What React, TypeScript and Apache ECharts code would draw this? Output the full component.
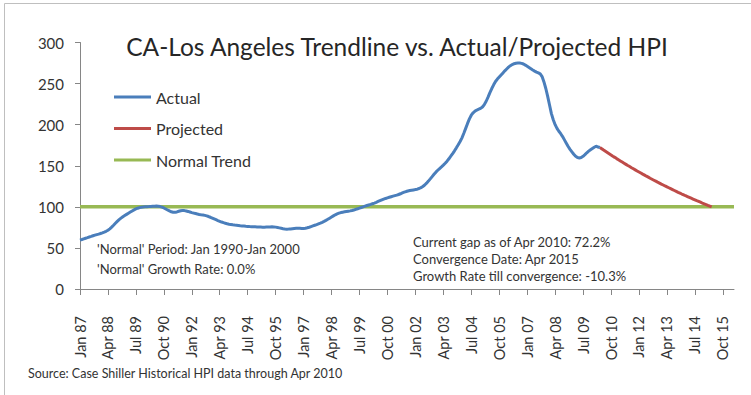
import React, { useEffect, useRef } from "react";
import * as echarts from "echarts";

// ---------- data ----------
const MONTHS = ["Jan", "Feb", "Mar", "Apr", "May", "Jun", "Jul", "Aug", "Sep", "Oct", "Nov", "Dec"];
const FIRST_YEAR = 1987;
const MONTH_COUNT = 352; // Jan 87 .. Apr 16

const hpi1987 = [59.5, 60.2, 61.0, 61.8, 62.5, 63.3, 64.0, 64.8, 65.5, 66.2, 66.8, 67.5];
const hpi1988 = [68.3, 69.2, 70.2, 71.5, 73.2, 75.3, 77.6, 80.0, 82.3, 84.4, 86.2, 87.9];
const hpi1989 = [89.4, 90.8, 92.2, 93.6, 95.0, 96.3, 97.4, 98.3, 99.0, 99.5, 99.8, 100.0];
const hpi1990 = [100.2, 100.3, 100.5, 100.7, 100.8, 100.9, 100.7, 100.3, 99.6, 98.6, 97.4, 96.2];
const hpi1991 = [95.0, 94.0, 93.4, 93.3, 93.8, 94.6, 95.3, 95.6, 95.4, 95.0, 94.4, 93.7];
const hpi1992 = [93.0, 92.4, 91.8, 91.2, 90.7, 90.3, 90.0, 89.6, 89.0, 88.2, 87.3, 86.3];
const hpi1993 = [85.3, 84.3, 83.3, 82.4, 81.5, 80.7, 80.0, 79.4, 78.9, 78.5, 78.1, 77.8];
const hpi1994 = [77.6, 77.3, 77.0, 76.8, 76.6, 76.4, 76.2, 76.0, 75.9, 75.8, 75.7, 75.6];
const hpi1995 = [75.5, 75.4, 75.3, 75.3, 75.4, 75.5, 75.6, 75.7, 75.6, 75.3, 74.9, 74.4];
const hpi1996 = [73.9, 73.4, 73.0, 72.8, 72.9, 73.1, 73.4, 73.7, 73.9, 74.0, 73.9, 73.7];
const hpi1997 = [73.6, 73.9, 74.5, 75.2, 76.0, 76.8, 77.6, 78.4, 79.3, 80.2, 81.2, 82.3];
const hpi1998 = [83.5, 84.8, 86.2, 87.6, 89.0, 90.3, 91.4, 92.3, 93.0, 93.5, 93.9, 94.3];
const hpi1999 = [94.7, 95.1, 95.6, 96.2, 96.9, 97.6, 98.4, 99.2, 100.0, 100.8, 101.6, 102.3];
const hpi2000 = [103.0, 103.8, 104.6, 105.5, 106.5, 107.5, 108.5, 109.4, 110.2, 110.9, 111.6, 112.3];
const hpi2001 = [113.0, 113.6, 114.2, 115.0, 115.9, 116.9, 117.8, 118.6, 119.3, 119.8, 120.2, 120.6];
const hpi2002 = [121.0, 121.5, 122.3, 123.4, 124.8, 126.6, 128.8, 131.3, 134.0, 136.8, 139.6, 142.2];
const hpi2003 = [144.5, 146.6, 148.6, 150.7, 153.0, 155.6, 158.5, 161.6, 164.8, 168.2, 171.8, 175.6];
const hpi2004 = [179.5, 184.0, 189.5, 195.5, 201.5, 207.0, 211.5, 214.5, 216.5, 217.8, 218.8, 219.8];
const hpi2005 = [221.5, 224.5, 228.5, 233.5, 239.0, 244.0, 248.5, 252.5, 255.5, 258.0, 260.5, 263.0];
const hpi2006 = [265.5, 267.8, 270.0, 271.8, 273.2, 274.2, 274.8, 275.0, 275.0, 274.6, 273.8, 272.5];
const hpi2007 = [271.0, 269.5, 268.0, 266.5, 265.2, 264.0, 263.0, 261.8, 258.5, 252.0, 244.0, 234.5];
const hpi2008 = [224.0, 213.5, 206.0, 200.0, 195.5, 192.0, 189.0, 185.5, 181.5, 177.5, 173.5, 170.0];
const hpi2009 = [167.0, 164.0, 161.5, 160.0, 159.5, 160.0, 161.5, 163.5, 165.8, 167.8, 169.5, 171.0];
const hpi2010 = [172.5, 173.8, 172.8, 172.2];

const ACTUAL = [
  ...hpi1987, ...hpi1988, ...hpi1989, ...hpi1990, ...hpi1991, ...hpi1992,
  ...hpi1993, ...hpi1994, ...hpi1995, ...hpi1996, ...hpi1997, ...hpi1998,
  ...hpi1999, ...hpi2000, ...hpi2001, ...hpi2002, ...hpi2003, ...hpi2004,
  ...hpi2005, ...hpi2006, ...hpi2007, ...hpi2008, ...hpi2009, ...hpi2010,
];

// Projected: Apr 2010 .. Apr 2015
const PROJECTED_START = 279;
const PROJECTED = [
  172.2, 170.7, 169.1, 167.6, 166.1, 164.6, 163.1, 161.6, 160.2, 158.7, 157.3, 155.9,
  154.5, 153.1, 151.7, 150.3, 149.0, 147.6, 146.3, 145.0, 143.7, 142.4, 141.1, 139.8,
  138.6, 137.3, 136.1, 134.8, 133.6, 132.4, 131.2, 130.0, 128.9, 127.7, 126.6, 125.4,
  124.3, 123.2, 122.1, 121.0, 119.9, 118.8, 117.7, 116.7, 115.6, 114.6, 113.5, 112.5,
  111.5, 110.5, 109.5, 108.5, 107.5, 106.6, 105.6, 104.6, 103.7, 102.8, 101.8, 100.9,
  100.0,
];

const NORMAL_LEVEL = 100;

const Y_MIN = 0;
const Y_MAX = 300;
const Y_STEP = 50;

const TITLE = "CA-Los Angeles Trendline vs. Actual/Projected HPI";
const NOTES_LEFT = ["'Normal' Period: Jan 1990-Jan 2000", "'Normal' Growth Rate: 0.0%"];
const NOTES_RIGHT = [
  "Current gap as of Apr 2010: 72.2%",
  "Convergence Date: Apr 2015",
  "Growth Rate till convergence: -10.3%",
];
const SOURCE = "Source: Case Shiller Historical HPI data through Apr 2010";

const CATEGORIES: string[] = [];
for (let i = 0; i < MONTH_COUNT; i++) {
  const yr = (FIRST_YEAR + Math.floor(i / 12)) % 100;
  CATEGORIES.push(`${MONTHS[i % 12]} ${String(yr).padStart(2, "0")}`);
}

const FONT = "Lato, 'Liberation Sans', sans-serif";
const LEGEND_ICON = "path://M0,0H40V3H0Z";

export default function App() {
  const ref = useRef<HTMLDivElement>(null);

  useEffect(() => {
    if (!ref.current) return;
    const chart = echarts.init(ref.current, null, { renderer: "svg" });

    const projectedData = PROJECTED.map((v, k) => [CATEGORIES[PROJECTED_START + k], v]);
    const normalData = [
      [CATEGORIES[0], NORMAL_LEVEL],
      [CATEGORIES[CATEGORIES.length - 1], NORMAL_LEVEL],
    ];

    const txt = (text: string, x: number, y: number, size: number, extra: any = {}) => ({
      type: "text",
      x,
      y,
      silent: true,
      style: {
        text,
        fill: extra.fill || "#333333",
        font: `${extra.weight || "normal"} ${size}px ${FONT}`,
        textAlign: extra.align || "left",
        textVerticalAlign: "middle",
        align: extra.align || "left",
        verticalAlign: "middle",
      },
    });

    chart.setOption({
      animation: false,
      backgroundColor: "#ffffff",
      textStyle: { fontFamily: FONT },
      grid: { left: 80, top: 42.5, width: 654, height: 246.5, containLabel: false },
      legend: {
        orient: "vertical",
        left: 114,
        top: 89,
        padding: 0,
        icon: LEGEND_ICON,
        itemWidth: 37,
        itemHeight: 3,
        itemGap: 15.5,
        textStyle: { fontSize: 16, color: "#333333", fontFamily: FONT },
        data: ["Actual", "Projected", "Normal Trend"],
      },
      xAxis: {
        type: "category",
        data: CATEGORIES,
        boundaryGap: false,
        axisLine: { lineStyle: { color: "#868686", width: 1 } },
        axisTick: { interval: 14, length: 6, lineStyle: { color: "#868686" } },
        axisLabel: {
          interval: 14,
          rotate: 90,
          margin: 27,
          fontSize: 14.5,
          color: "#333333",
          fontFamily: FONT,
        },
        splitLine: { show: false },
      },
      yAxis: {
        type: "value",
        min: Y_MIN,
        max: Y_MAX,
        interval: Y_STEP,
        axisLine: { show: true, lineStyle: { color: "#868686", width: 1 } },
        axisTick: { show: true, length: 5, lineStyle: { color: "#868686" } },
        axisLabel: { fontSize: 15, color: "#333333", margin: 16, fontFamily: FONT },
        splitLine: { show: false },
      },
      series: [
        {
          name: "Normal Trend",
          type: "line",
          data: normalData,
          symbol: "none",
          lineStyle: { color: "#98B954", width: 3.5 },
          itemStyle: { color: "#98B954" },
          z: 1,
        },
        {
          name: "Actual",
          type: "line",
          data: ACTUAL,
          symbol: "none",
          lineStyle: { color: "#4A7EBB", width: 3 },
          itemStyle: { color: "#4A7EBB" },
          z: 3,
        },
        {
          name: "Projected",
          type: "line",
          data: projectedData,
          symbol: "none",
          lineStyle: { color: "#BE4B48", width: 3 },
          itemStyle: { color: "#BE4B48" },
          z: 2,
        },
      ],
      graphic: [
        {
          type: "rect",
          silent: true,
          shape: { x: 4.5, y: 3.5, width: 900, height: 600 },
          style: { fill: "none", stroke: "#bfbfbf", lineWidth: 1 },
        },
        txt(TITLE, 397, 46, 24.5, { align: "center", fill: "#262626" }),
        ...NOTES_LEFT.map((t, i) => txt(t, 97, 249 + i * 20, 13)),
        ...NOTES_RIGHT.map((t, i) => txt(t, 413, 241.5 + i * 17, 13)),
        txt(SOURCE, 28, 373, 12.5),
      ],
    });

    return () => chart.dispose();
  }, []);

  return (
    <div
      ref={ref}
      style={{ position: "fixed", left: 0, top: 0, width: 751, height: 395, background: "#fff" }}
    />
  );
}
